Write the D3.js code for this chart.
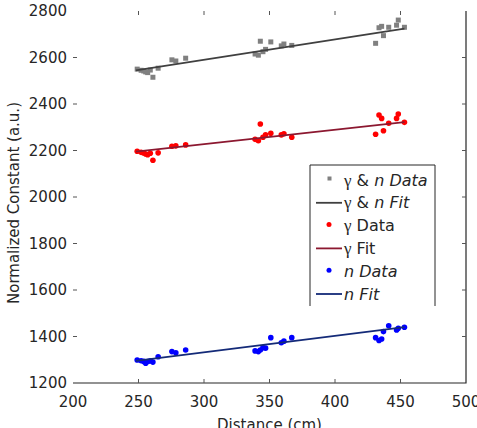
<!DOCTYPE html>
<html>
<head>
<meta charset="utf-8">
<script src="https://d3js.org/d3.v7.min.js"></script>
<style>
	body { margin: 0; background: #fff; }
	text { font-family: "DejaVu Sans", Verdana, sans-serif; fill: #262626; }
</style>
</head>
<body>
<div id="chart"></div>
<script>
var distances = [249, 252, 254, 255.5, 257, 259, 261, 265, 275.5, 278.5, 286,
	339, 341.5, 343, 345, 347, 351, 359, 361, 367,
	431, 433.6, 435.6, 437, 441, 447, 448.3, 453];
var bothData = [2550, 2545, 2542, 2538, 2535, 2546, 2515, 2554, 2590, 2585, 2597,
	2615, 2610, 2670, 2625, 2635, 2667, 2650, 2658, 2652,
	2661, 2728, 2734, 2694, 2730, 2739, 2761, 2730];
var gammaData = [2197, 2192, 2189, 2185, 2182, 2188, 2158, 2190, 2218, 2220, 2224,
	2248, 2242, 2314, 2257, 2267, 2274, 2267, 2272, 2257,
	2270, 2353, 2338, 2285, 2317, 2338, 2357, 2321];
var nData = [1299, 1296, 1293, 1285, 1292, 1295, 1290, 1313, 1335, 1330, 1342,
	1338, 1335, 1342, 1352, 1350, 1395, 1373, 1380, 1395,
	1395, 1383, 1389, 1421, 1446, 1428, 1435, 1440];
var fitRange = [248, 453];
var bothFit = [2545, 2724];
var gammaFit = [2195, 2322];
var nFit = [1295, 1440];
var xTicks = [200, 250, 300, 350, 400, 450, 500];
var yTicks = [1200, 1400, 1600, 1800, 2000, 2200, 2400, 2600, 2800];

(function() {
	var width = 477, height = 428;
	var left = 73, right = 466, top = 11, bottom = 383;

	var svg = d3.select('#chart').append('svg')
		.attr('width', width)
		.attr('height', height);

	var x = d3.scaleLinear().domain([200, 500]).range([left, right]);
	var y = d3.scaleLinear().domain([1200, 2800]).range([bottom, top]);

	// frame: only bottom and right edges show in the reference
	svg.append('path')
		.attr('d', 'M' + left + ',' + bottom + 'H' + right + 'V' + top)
		.attr('fill', 'none')
		.attr('stroke', '#262626')
		.attr('stroke-width', 1.2);

	var tickLen = 4;
	var ticks = svg.append('g').attr('stroke', '#555').attr('stroke-width', 1);
	xTicks.slice(1, -1).forEach(function(t) {
		ticks.append('line').attr('x1', x(t)).attr('x2', x(t)).attr('y1', bottom).attr('y2', bottom - tickLen);
		ticks.append('line').attr('x1', x(t)).attr('x2', x(t)).attr('y1', top).attr('y2', top + tickLen);
	});
	yTicks.slice(1, -1).forEach(function(t) {
		ticks.append('line').attr('x1', left).attr('x2', left + tickLen).attr('y1', y(t)).attr('y2', y(t));
		ticks.append('line').attr('x1', right).attr('x2', right - tickLen).attr('y1', y(t)).attr('y2', y(t));
	});

	svg.append('g').selectAll('text')
		.data(xTicks)
		.enter()
		.append('text')
		.attr('x', function(d) { return x(d); })
		.attr('y', 407)
		.attr('text-anchor', 'middle')
		.style('font-size', '15px')
		.text(function(d) { return d; });

	svg.append('g').selectAll('text')
		.data(yTicks)
		.enter()
		.append('text')
		.attr('x', 67)
		.attr('y', function(d) { return y(d); })
		.attr('dy', '0.36em')
		.attr('text-anchor', 'end')
		.style('font-size', '15px')
		.text(function(d) { return d; });

	svg.append('text')
		.attr('x', (left + right) / 2)
		.attr('y', 430)
		.attr('text-anchor', 'middle')
		.style('font-size', '15px')
		.text('Distance (cm)');

	svg.append('text')
		.attr('transform', 'translate(19,203) rotate(-90)')
		.attr('text-anchor', 'middle')
		.style('font-size', '15px')
		.text('Normalized Constant (a.u.)');

	var series = [
		{ values: bothData, fit: bothFit, point: '#808080', line: '#404040', shape: 'square' },
		{ values: gammaData, fit: gammaFit, point: '#ff0000', line: '#8c1830', shape: 'circle' },
		{ values: nData, fit: nFit, point: '#0000ff', line: '#142a78', shape: 'circle' }
	];

	var line = d3.line()
		.x(function(d) { return x(d[0]); })
		.y(function(d) { return y(d[1]); });

	series.forEach(function(s) {
		var g = svg.append('g');
		var pts = distances.map(function(d, i) { return [d, s.values[i]]; });
		if(s.shape == 'square') {
			g.selectAll('rect').data(pts).enter().append('rect')
				.attr('x', function(d) { return x(d[0]) - 2.5; })
				.attr('y', function(d) { return y(d[1]) - 2.5; })
				.attr('width', 5)
				.attr('height', 5)
				.attr('fill', s.point);
		} else {
			g.selectAll('circle').data(pts).enter().append('circle')
				.attr('cx', function(d) { return x(d[0]); })
				.attr('cy', function(d) { return y(d[1]); })
				.attr('r', 2.8)
				.attr('fill', s.point);
		}
		g.append('path')
			.datum(fitRange.map(function(d, i) { return [d, s.fit[i]]; }))
			.attr('d', line)
			.attr('fill', 'none')
			.attr('stroke', s.line)
			.attr('stroke-width', 1.8);
	});

	// legend
	var legend = svg.append('g');
	legend.append('rect')
		.attr('x', 310).attr('y', 165).attr('width', 125).attr('height', 141)
		.attr('fill', '#fff');
	legend.append('path')
		.attr('d', 'M310,306V165H435V306')
		.attr('fill', 'none')
		.attr('stroke', '#262626')
		.attr('stroke-width', 1);

	var entries = [
		{ kind: 'square', color: '#808080', parts: [['γ', 'g'], [' & ', ''], ['n Data', 'i']] },
		{ kind: 'line', color: '#404040', parts: [['γ', 'g'], [' & ', ''], ['n Fit', 'i']] },
		{ kind: 'dot', color: '#ff0000', parts: [['γ', 'g'], [' Data', '']] },
		{ kind: 'line', color: '#8c1830', parts: [['γ', 'g'], [' Fit', '']] },
		{ kind: 'dot', color: '#0000ff', parts: [['n Data', 'i']] },
		{ kind: 'line', color: '#142a78', parts: [['n Fit', 'i']] }
	];
	entries.forEach(function(e, i) {
		var cy = 180 + i * 22.8;
		if(e.kind == 'line') {
			legend.append('line').attr('x1', 316).attr('x2', 342).attr('y1', cy).attr('y2', cy)
				.attr('stroke', e.color).attr('stroke-width', 1.8);
		} else if(e.kind == 'square') {
			legend.append('rect').attr('x', 327.5).attr('y', cy - 3.5).attr('width', 4).attr('height', 4)
				.attr('fill', e.color);
		} else {
			legend.append('circle').attr('cx', 329).attr('cy', cy - 1).attr('r', 2.5).attr('fill', e.color);
		}
		var t = legend.append('text').attr('x', 344).attr('y', cy + 5.5).style('font-size', '16px');
		e.parts.forEach(function(p) {
			var sp = t.append('tspan').text(p[0]);
			if(p[1] == 'g') sp.style('font-family', '"Liberation Serif", "Times New Roman", serif').style('font-size', '17px');
			if(p[1] == 'i') sp.style('font-style', 'italic');
		});
	});
})();
</script>
</body>
</html>
